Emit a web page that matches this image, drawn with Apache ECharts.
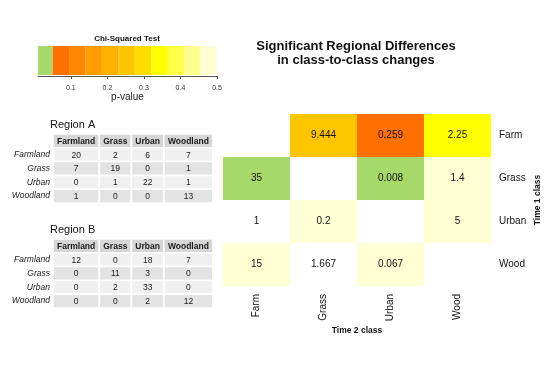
<!DOCTYPE html>
<html><head><meta charset="utf-8">
<script src="https://cdn.jsdelivr.net/npm/echarts@6/dist/echarts.min.js"></script>
<style>html,body{margin:0;padding:0;background:#fff}#c{width:550px;height:367px}</style>
</head><body><div id="c"></div>
<script>
// ---------------- DATA ----------------
const pBreaks = [0.01, 0.05, 0.095, 0.14, 0.185, 0.23, 0.275, 0.32, 0.365, 0.41, 0.455, 0.5];
const pTicks = [0.1, 0.2, 0.3, 0.4, 0.5];
const tableColumns = ['Farmland', 'Grass', 'Urban', 'Woodland'];
const tableRows = ['Farmland', 'Grass', 'Urban', 'Woodland'];
const regionACounts = [[20, 2, 6, 7], [7, 19, 0, 1], [0, 1, 22, 1], [1, 0, 0, 13]];
const regionBCounts = [[12, 0, 18, 7], [0, 11, 3, 0], [0, 2, 33, 0], [0, 0, 2, 12]];
const timeClasses = ['Farm', 'Grass', 'Urban', 'Wood'];
const chiStats = [[null, 9.444, 0.259, 2.25], [35, null, 0.008, 1.4], [1, 0.2, null, 5], [15, 1.667, 0.067, null]];
const pValues = [[null, 0.25, 0.07, 0.36], [0.02, null, 0.02, 0.48], [null, 0.48, null, 0.48], [0.48, null, 0.48, null]];

// ---------------- STYLE ----------------
const FONT = '"Liberation Sans", Arial, Helvetica, sans-serif';
const palette = ['#A6D96A', '#FF7000', '#FF8700', '#FF9C00', '#FFB000', '#FFC600', '#FFDD00', '#FFFF00', '#FFFF48', '#FFFF90', '#FFFFD4'];
const TBL_FS = 8.5;
const headerFill = '#D6D6D6', rowFillA = '#F0F0F0', rowFillB = '#E3E3E3';

function pColor(p) {
  if (p == null) return '#FFFFFF';
  for (let i = 0; i < pBreaks.length - 1; i++) {
    if (p < pBreaks[i + 1]) return palette[i];
  }
  return palette[palette.length - 1];
}

// column widths derived from the header text (like a table grob)
const mctx = document.createElement('canvas').getContext('2d');
mctx.font = 'bold ' + TBL_FS + 'px ' + FONT;
const colWidths = tableColumns.map(t => mctx.measureText(t).width + 8);
const colEdges = [0];
colWidths.forEach(w => colEdges.push(colEdges[colEdges.length - 1] + w));
const tableWidth = colEdges[colEdges.length - 1];

function tableData(counts) {
  const d = [];
  tableColumns.forEach((c, j) => d.push([colEdges[j], colEdges[j + 1], 0, c]));
  counts.forEach((row, i) => row.forEach((v, j) => d.push([colEdges[j], colEdges[j + 1], i + 1, String(v)])));
  return d;
}

function tableRender(params, api) {
  const a = api.coord([api.value(0), api.value(2)]);
  const b = api.coord([api.value(1), api.value(2)]);
  const h = api.size([0, 1])[1];
  const row = api.value(2);
  const fill = row === 0 ? headerFill : (row % 2 === 1 ? rowFillA : rowFillB);
  return {
    type: 'group',
    children: [
      { type: 'rect', shape: { x: a[0], y: a[1] - h / 2, width: b[0] - a[0], height: h },
        style: { fill: fill, stroke: '#FFFFFF', lineWidth: 1.5 } },
      { type: 'text', style: { text: api.value(3), x: (a[0] + b[0]) / 2, y: a[1] + 0.5,
        align: 'center', verticalAlign: 'middle', fontSize: TBL_FS, fontFamily: FONT,
        fontWeight: row === 0 ? 'bold' : 'normal', fill: '#1a1a1a' } }
    ]
  };
}

const barData = [];
for (let i = 0; i < pBreaks.length - 1; i++) barData.push([pBreaks[i], pBreaks[i + 1], 0, i]);

const heatData = [];
chiStats.forEach((row, r) => row.forEach((v, c) => {
  if (v != null) heatData.push([c, r, String(v), pColor(pValues[r][c])]);
}));

function tableAxes(gi) {
  return {
    x: { type: 'value', gridIndex: gi, min: 0, max: tableWidth, show: false },
    y: { type: 'category', gridIndex: gi, inverse: true, data: [''].concat(tableRows),
      axisLine: { show: false }, axisTick: { show: false }, splitLine: { show: false },
      axisLabel: { fontStyle: 'italic', fontSize: TBL_FS, fontFamily: FONT, color: '#1a1a1a', margin: 3 } }
  };
}
const tA = tableAxes(1), tB = tableAxes(2);

const chart = echarts.init(document.getElementById('c'), null, { renderer: 'canvas' });
chart.setOption({
  animation: false,
  backgroundColor: '#FFFFFF',
  textStyle: { fontFamily: FONT },
  title: [
    { text: 'Chi-Squared Test', left: 127, top: 35, textAlign: 'center', padding: 0,
      textStyle: { fontSize: 8, fontWeight: 'bold', fontFamily: FONT, color: '#111' } },
    { text: 'Significant Regional Differences\nin class-to-class changes', left: 356, top: 39, textAlign: 'center', padding: 0,
      textStyle: { fontSize: 13, fontWeight: 'bold', fontFamily: FONT, color: '#111', lineHeight: 14.5 } },
    { text: 'Region A', left: 50, top: 119, padding: 0,
      textStyle: { fontSize: 11, fontWeight: 'normal', fontFamily: FONT, color: '#111' } },
    { text: 'Region B', left: 50, top: 224, padding: 0,
      textStyle: { fontSize: 11, fontWeight: 'normal', fontFamily: FONT, color: '#111' } }
  ],
  grid: [
    { left: 38, top: 46, width: 179, height: 30, outerBoundsMode: 'none' },
    { left: 53, top: 134, width: tableWidth, height: 69, outerBoundsMode: 'none' },
    { left: 53, top: 239, width: tableWidth, height: 69, outerBoundsMode: 'none' },
    { left: 223, top: 114, width: 268, height: 172, outerBoundsMode: 'none' }
  ],
  xAxis: [
    { type: 'value', gridIndex: 0, min: 0.01, max: 0.5, splitLine: { show: false },
      axisLine: { show: true, lineStyle: { color: '#555', width: 1 } },
      axisTick: { show: true, customValues: pTicks, length: 3, lineStyle: { color: '#555' } },
      axisLabel: { customValues: pTicks, fontSize: 7, color: '#333', margin: 9, fontFamily: FONT },
      name: 'p-value', nameLocation: 'middle', nameGap: 16, nameMoveOverlap: false,
      nameTextStyle: { fontSize: 10, color: '#222', fontFamily: FONT } },
    tA.x, tB.x,
    { type: 'category', gridIndex: 3, data: timeClasses,
      axisLine: { show: false }, axisTick: { show: false }, splitLine: { show: false },
      axisLabel: { rotate: 90, fontSize: 10, margin: 8, color: '#111', fontFamily: FONT },
      name: 'Time 2 class', nameLocation: 'middle', nameGap: 40, nameMoveOverlap: false,
      nameTextStyle: { fontSize: 8.5, fontWeight: 'bold', color: '#111', fontFamily: FONT } }
  ],
  yAxis: [
    { type: 'category', gridIndex: 0, data: [''], show: false },
    tA.y, tB.y,
    { type: 'category', gridIndex: 3, data: timeClasses, inverse: true, position: 'right',
      axisLine: { show: false }, axisTick: { show: false }, splitLine: { show: false },
      axisLabel: { fontSize: 10, margin: 8, color: '#111', fontFamily: FONT },
      name: 'Time 1 class', nameLocation: 'middle', nameRotate: 90, nameGap: 42, nameMoveOverlap: false,
      nameTextStyle: { fontSize: 8.5, fontWeight: 'bold', color: '#111', fontFamily: FONT } }
  ],
  series: [
    { type: 'custom', xAxisIndex: 0, yAxisIndex: 0, data: barData, encode: { x: [0, 1], y: 2 }, z: 1,
      renderItem: function (params, api) {
        const a = api.coord([api.value(0), 0]);
        const b = api.coord([api.value(1), 0]);
        const h = api.size([0, 1])[1];
        return { type: 'rect', shape: { x: a[0], y: a[1] - h / 2, width: b[0] - a[0], height: h - 1 },
          style: { fill: palette[api.value(3)] } };
      } },
    { type: 'custom', xAxisIndex: 1, yAxisIndex: 1, data: tableData(regionACounts), encode: { x: [0, 1], y: 2 }, renderItem: tableRender },
    { type: 'custom', xAxisIndex: 2, yAxisIndex: 2, data: tableData(regionBCounts), encode: { x: [0, 1], y: 2 }, renderItem: tableRender },
    { type: 'custom', xAxisIndex: 3, yAxisIndex: 3, data: heatData, encode: { x: 0, y: 1 },
      renderItem: function (params, api) {
        const c = api.coord([api.value(0), api.value(1)]);
        const s = api.size([1, 1]);
        return { type: 'group', children: [
          { type: 'rect', shape: { x: c[0] - s[0] / 2, y: c[1] - s[1] / 2, width: s[0], height: s[1] },
            style: { fill: api.value(3) } },
          { type: 'text', style: { text: api.value(2), x: c[0], y: c[1], align: 'center', verticalAlign: 'middle',
            fontSize: 10, fontFamily: FONT, fill: '#111' } }
        ] };
      } }
  ]
});
</script></body></html>
